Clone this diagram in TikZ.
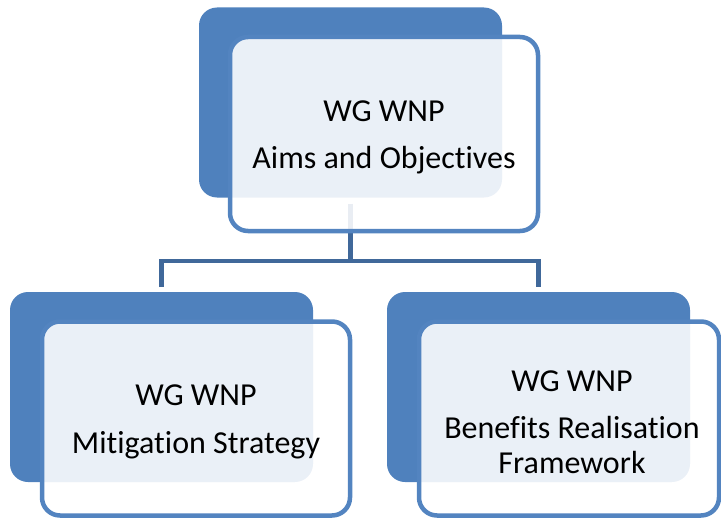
\documentclass[tikz,border=0pt]{standalone}
\usepackage{fontspec}
\setmainfont{Carlito}[Ligatures=NoCommon]
\definecolor{backblue}{RGB}{79,129,189}
\definecolor{frameblue}{RGB}{83,132,192}
\definecolor{connblue}{RGB}{64,104,154}
\tikzset{
  backbox/.style={fill=backblue, rounded corners=18pt, minimum width=303pt, minimum height=190pt, inner sep=0pt, outer sep=0pt},
  frontbox/.style={draw=frameblue, line width=4.5pt, fill=white, fill opacity=0.885, rounded corners=18pt, minimum height=194pt, inner sep=0pt, outer sep=0pt},
  boxtext/.style={align=center, inner sep=0pt, font=\fontsize{32}{36}\selectfont, yshift=-3.5pt},
  conn/.style={draw=connblue, line width=4.8pt}
}
\begin{document}
\begin{tikzpicture}[x=1pt,y=-1pt]
\useasboundingbox (0,0) rectangle (721,519);
% back boxes
\node[backbox] (tb) at (350.5,102.5) {};
\node[backbox] (lb) at (161.5,387) {};
\node[backbox] (rb) at (538.5,387) {};
% connectors
\coordinate (bus) at (0,261);
\draw[conn] ([yshift=-6pt]tb.south) -- (tb.south |- bus);
\draw[conn] ([yshift=5pt]lb.north) |- (bus -| rb.north) -- ([yshift=5pt]rb.north);
% front boxes
\node[frontbox, minimum width=308pt] (tf) at (384,134) {};
\node[frontbox, minimum width=308pt] (lf) at (196,418.5) {};
\node[frontbox, minimum width=300pt] (rf) at (569,418.5) {};
% texts
\node[boxtext] (tft) at (tf.center) {WG WNP\\[11pt]Aims and Objectives};
\node[boxtext] (lft) at (lf.center) {WG WNP\\[12pt]Mitigation Strategy};
\node[boxtext] (rft) at ([xshift=3pt]rf.center) {WG WNP\\[11pt]Benefits Realisation\\[-1pt]Framework};
\end{tikzpicture}
\end{document}
